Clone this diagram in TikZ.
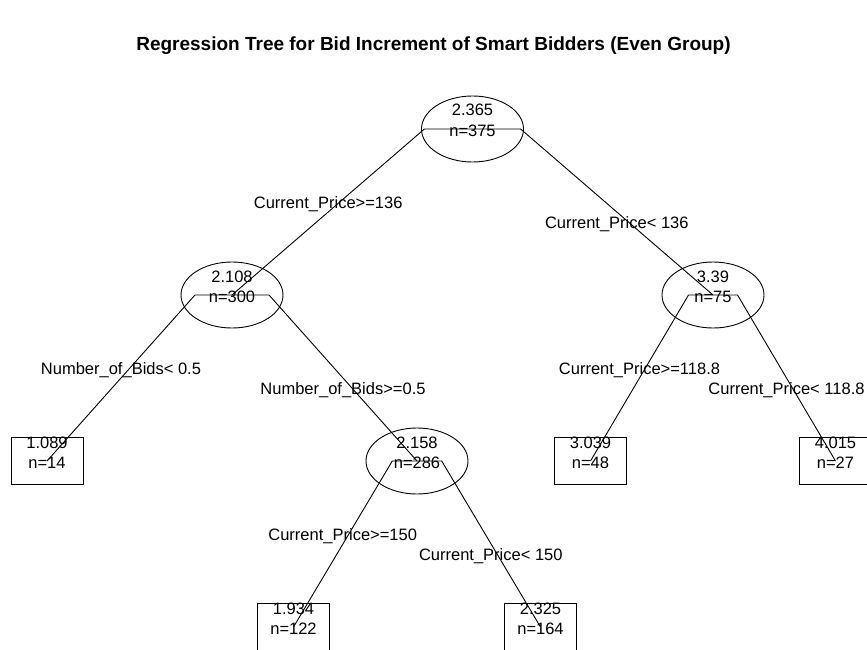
\documentclass[tikz,border=0pt]{standalone}
\usepackage{fontspec}
\setmainfont{Liberation Sans}
\usetikzlibrary{shapes.geometric}
\begin{document}
\begin{tikzpicture}[x=1pt,y=-1pt,
  every node/.style={inner sep=0pt, outer sep=0pt},
  txt/.style={anchor=base, font=\fontsize{16.5}{19}\selectfont},
  title/.style={anchor=base, font=\fontsize{19}{22}\selectfont\bfseries},
  splitnode/.style={draw, ellipse, line width=0.9pt, minimum width=102pt, minimum height=66pt},
  leafnode/.style={draw, rectangle, line width=0.9pt, minimum width=72pt, minimum height=47pt},
  branch/.style={draw, line width=0.9pt}]
\useasboundingbox (0,0) rectangle (867,650);
\clip (0,0) rectangle (867,650);

% tree node positions (x, level)
\coordinate (p1)  at (472.5,129);
\coordinate (p2)  at (232,295);
\coordinate (p3)  at (713,295);
\coordinate (p4)  at (47,461);
\coordinate (p5)  at (417,461);
\coordinate (p6)  at (590.5,461);
\coordinate (p7)  at (835.5,461);
\coordinate (p10) at (293.5,627);
\coordinate (p11) at (540.5,627);

% shoulders of each split (branch = 0.2)
\coordinate (s1L) at (424.4,129);  \coordinate (s1R) at (520.6,129);
\coordinate (s2L) at (195,295);    \coordinate (s2R) at (269,295);
\coordinate (s3L) at (688.5,295);  \coordinate (s3R) at (737.5,295);
\coordinate (s5L) at (392.3,461);  \coordinate (s5R) at (441.7,461);

% branches
\draw[branch] (p2) -- (s1L) -- (s1R) -- (p3);
\draw[branch] (p4) -- (s2L) -- (s2R) -- (p5);
\draw[branch] (p6) -- (s3L) -- (s3R) -- (p7);
\draw[branch] (p10) -- (s5L) -- (s5R) -- (p11);

% split nodes
\node[splitnode] (e1) at (p1) {};
\node[splitnode] (e2) at (p2) {};
\node[splitnode] (e3) at (p3) {};
\node[splitnode] (e5) at (p5) {};

% leaves
\node[leafnode] (b4)  at (p4) {};
\node[leafnode] (b6)  at (p6) {};
\node[leafnode] (b7)  at (p7) {};
\node[leafnode] (b10) at (p10) {};
\node[leafnode] (b11) at (p11) {};

% node values and counts
\node[txt] (v1)  at (472.5,116) {2.365};  \node[txt] (c1)  at (472.5,136) {n=375};
\node[txt] (v2)  at (232,282)   {2.108};  \node[txt] (c2)  at (232,302)   {n=300};
\node[txt] (v3)  at (713,282)   {3.39};   \node[txt] (c3)  at (713,302)   {n=75};
\node[txt] (v4)  at (47,448)    {1.089};  \node[txt] (c4)  at (47,468)    {n=14};
\node[txt] (v5)  at (417,448)   {2.158};  \node[txt] (c5)  at (417,468)   {n=286};
\node[txt] (v6)  at (590.5,448) {3.039};  \node[txt] (c6)  at (590.5,468) {n=48};
\node[txt] (v7)  at (835.5,448) {4.015};  \node[txt] (c7)  at (835.5,468) {n=27};
\node[txt] (v10) at (293.5,614) {1.934};  \node[txt] (c10) at (293.5,634) {n=122};
\node[txt] (v11) at (540.5,614) {2.325};  \node[txt] (c11) at (540.5,634) {n=164};

% split rules
\node[txt] (r1L) at (328.2,208) {Current\_Price>=136};
\node[txt] (r1R) at (616.8,228) {Current\_Price< 136};
\node[txt] (r2L) at (121,374)   {Number\_of\_Bids< 0.5};
\node[txt] (r2R) at (343,394)   {Number\_of\_Bids>=0.5};
\node[txt] (r3L) at (639.5,374) {Current\_Price>=118.8};
\node[txt] (r3R) at (786.5,394) {Current\_Price< 118.8};
\node[txt] (r5L) at (342.7,540) {Current\_Price>=150};
\node[txt] (r5R) at (490.8,560) {Current\_Price< 150};

% heading
\node[title] (head) at (433.5,51) {Regression Tree for Bid Increment of Smart Bidders (Even Group)};
\end{tikzpicture}
\end{document}
